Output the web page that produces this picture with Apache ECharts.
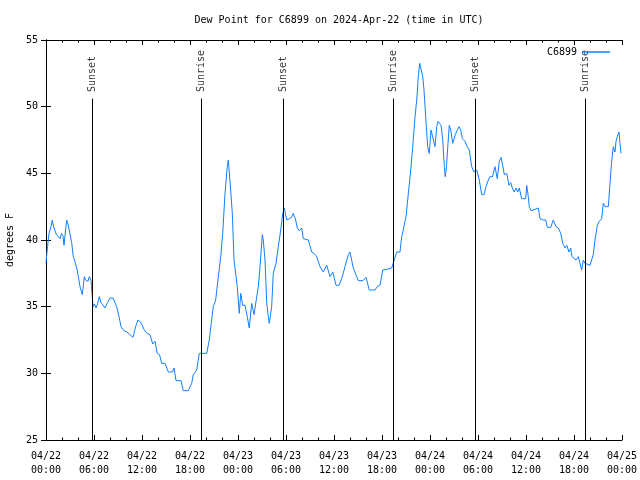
<!DOCTYPE html>
<html><head><meta charset="utf-8">
<script src="https://cdn.jsdelivr.net/npm/echarts@6/dist/echarts.min.js"></script>
<style>html,body{margin:0;padding:0;background:#fff}#c{width:640px;height:480px}</style>
</head><body><div id="c"></div>
<script>
// hours since 2024-04-22 00:00 UTC
var hours = [0,0.19,0.375,0.625,0.79,0.94,1.125,1.31,1.5,1.75,1.94,2.125,2.25,2.58,2.75,2.94,3.21,3.41,3.56,3.84,4.06,4.25,4.54,4.79,4.94,5.09,5.25,5.41,5.625,5.79,5.875,6.06,6.25,6.44,6.66,6.875,7.125,7.375,7.69,8.0,8.375,8.625,8.84,9.125,9.375,9.75,10.125,10.5,10.875,11.25,11.5,11.875,12.25,12.625,13.0,13.34,13.625,13.91,14.19,14.46,14.875,15.29,15.81,16.0,16.25,16.875,17.16,17.79,18.21,18.41,18.84,19.16,19.625,20.09,20.41,20.71,20.91,21.21,21.54,21.84,22.09,22.375,22.66,22.79,23.0,23.29,23.5,23.75,23.91,24.16,24.34,24.59,24.875,25.16,25.41,25.71,26.0,26.25,26.54,26.75,27.04,27.16,27.375,27.59,27.79,27.91,28.21,28.41,28.75,29.04,29.34,29.59,29.79,30.09,30.41,30.69,30.91,31.21,31.41,31.66,31.96,32.16,32.5,32.79,33.21,33.5,33.84,34.25,34.66,35.09,35.5,35.84,36.25,36.625,36.96,37.375,37.79,38.0,38.21,38.41,39.04,39.625,40.0,40.25,40.41,41.125,41.41,41.75,42.09,42.625,43.21,43.41,43.84,44.25,44.46,44.66,44.875,45.0,45.21,45.59,45.84,46.125,46.34,46.54,46.71,46.875,47.09,47.25,47.46,47.71,47.91,48.125,48.375,48.625,48.84,49.0,49.375,49.59,49.79,49.91,50.06,50.25,50.41,50.59,50.84,51.0,51.16,51.41,51.625,51.84,52.04,52.25,52.375,52.66,52.91,53.09,53.21,53.5,53.84,54.04,54.16,54.46,54.75,55.0,55.29,55.5,55.81,56.125,56.41,56.66,56.875,57.09,57.29,57.59,57.875,58.09,58.29,58.54,58.75,58.96,59.16,59.46,59.96,60.09,60.29,60.41,60.625,61.125,61.54,61.75,62.16,62.46,62.66,63.09,63.41,63.75,64.04,64.34,64.59,64.875,65.09,65.375,65.59,65.75,66.0,66.25,66.54,66.75,66.96,67.16,67.375,67.59,68.0,68.21,68.41,68.625,68.91,69.16,69.46,69.66,69.875,70.09,70.29,70.5,70.71,70.91,71.125,71.25,71.41,71.625,71.75,71.875];
var dewPoint = [38.3,39.5,40.5,41.0,41.5,41.0,41.0,40.4,40.3,40.1,40.5,40.3,39.6,41.5,41.2,40.6,39.8,38.75,38.5,37.9,37.2,36.5,35.9,37.25,37.0,36.9,36.9,37.25,37.0,36.9,35.0,35.2,34.9,35.2,35.75,35.3,35.3,34.9,35.3,35.65,35.65,35.6,35.0,34.25,33.5,33.2,33.1,32.9,32.7,33.6,34.0,33.8,33.3,33.0,32.9,32.2,32.4,31.5,31.4,30.75,30.75,30.1,30.1,30.4,29.45,29.45,28.7,28.7,29.25,29.9,30.25,31.5,31.5,31.5,32.5,34.0,35.0,35.5,37.25,38.75,40.5,43.5,45.5,46.0,44.4,42.0,38.5,38.6,36.5,34.5,36.0,35.1,35.1,34.25,33.4,35.25,34.4,35.4,36.5,38.0,40.4,40.0,38.5,35.25,34.25,33.75,35.0,37.5,38.25,39.5,40.75,42.0,42.4,41.5,41.6,41.7,42.0,41.5,40.9,40.7,40.9,40.1,40.05,40.0,39.1,39.0,38.75,38.0,37.6,38.1,37.25,37.6,36.6,36.6,37.1,38.0,38.9,39.1,39.0,37.9,36.95,36.95,37.2,37.1,36.25,36.25,36.5,36.6,37.75,37.8,37.9,38.05,39.1,39.1,40.25,40.75,41.4,41.75,43.0,45.25,47.0,49.25,50.5,52.25,53.25,53.2,52.25,51.25,49.25,47.0,46.5,48.25,48.2,47.0,48.5,48.9,48.6,47.5,45.5,44.75,45.5,47.25,48.6,48.25,47.25,47.1,47.9,48.25,48.5,48.25,47.6,47.6,47.4,47.0,46.75,46.0,45.5,45.1,45.25,45.1,44.5,43.4,43.4,44.0,44.5,44.75,44.75,45.5,44.6,45.9,46.2,45.6,44.9,45.0,44.1,44.3,43.9,43.6,43.9,43.6,43.9,43.1,43.1,44.1,43.25,42.5,42.2,42.3,42.4,41.6,41.5,41.5,40.95,40.95,41.5,41.0,40.9,40.5,39.75,39.4,39.6,39.1,39.4,38.75,38.9,38.5,38.75,38.25,37.75,38.5,38.25,38.3,38.1,38.25,38.9,40.0,41.1,41.4,41.6,42.75,42.5,42.4,42.5,44.25,45.9,47.0,46.6,47.4,47.75,48.1,47.25,46.5];
var sunHours = [5.79,19.41,29.66,43.41,53.69,67.41];
var sunNames = ['Sunset','Sunrise','Sunset','Sunrise','Sunset','Sunrise'];
var xTickLabels = ['04/22\n00:00','04/22\n06:00','04/22\n12:00','04/22\n18:00','04/23\n00:00','04/23\n06:00','04/23\n12:00','04/23\n18:00','04/24\n00:00','04/24\n06:00','04/24\n12:00','04/24\n18:00','04/25\n00:00'];
var yTicks = [25,30,35,40,45,50,55];

var FONT = 'DejaVu Sans Mono';
var series = hours.map(function(h,i){return [h, dewPoint[i]];});
var sunLineTop = 50.6, sunLabelY = 51.1;
var chart = echarts.init(document.getElementById('c'), null, {renderer:'canvas'});
var axisCommon = {
  axisLine:{show:true,lineStyle:{color:'#000',width:1}},
  splitLine:{show:false}
};
chart.setOption({
  animation:false,
  backgroundColor:'#fff',
  title:{text:'Dew Point for C6899 on 2024-Apr-22 (time in UTC)',left:334,textAlign:'center',top:10,
    textStyle:{fontFamily:FONT,fontSize:10,fontWeight:'normal',color:'#000'}},
  legend:{data:[{name:'C6899',icon:'rect'}],right:25,top:42,align:'right',itemWidth:28,itemHeight:1.5,
    itemGap:4,itemStyle:{borderWidth:0,color:'#1080ff'},
    textStyle:{fontFamily:FONT,fontSize:10,color:'#000'}},
  grid:{left:46,right:18,top:40,bottom:40,containLabel:false,outerBoundsMode:'none'},
  xAxis:[
    Object.assign({type:'value',min:0,max:72,interval:6,position:'bottom',
      axisTick:{show:true,inside:true,length:5,lineStyle:{color:'#000'}},
      minorTick:{show:true,splitNumber:3,length:2.5,lineStyle:{color:'#000'}},
      axisLabel:{fontFamily:FONT,fontSize:10,color:'#000',margin:9,lineHeight:14,
        formatter:function(v){return xTickLabels[Math.round(v/6)];}}},axisCommon),
    Object.assign({type:'value',min:0,max:72,interval:6,position:'top',
      axisTick:{show:true,inside:true,length:5,lineStyle:{color:'#000'}},
      minorTick:{show:true,splitNumber:3,length:2.5,lineStyle:{color:'#000'}},
      axisLabel:{show:false}},axisCommon)
  ],
  yAxis:[
    Object.assign({type:'value',min:yTicks[0],max:yTicks[yTicks.length-1],interval:5,position:'left',
      name:'degrees F',nameLocation:'middle',nameRotate:90,nameGap:31,
      nameTextStyle:{fontFamily:FONT,fontSize:10,color:'#000'},
      axisTick:{show:true,inside:true,length:5,lineStyle:{color:'#000'}},
      axisLabel:{fontFamily:FONT,fontSize:10,color:'#000',margin:8}},axisCommon),
    Object.assign({type:'value',min:yTicks[0],max:yTicks[yTicks.length-1],interval:5,position:'right',
      axisTick:{show:true,inside:true,length:5,lineStyle:{color:'#000'}},
      axisLabel:{show:false}},axisCommon)
  ],
  series:[
    {name:'C6899',type:'line',data:series,showSymbol:false,symbol:'none',
      lineStyle:{color:'#1080ff',width:1},itemStyle:{color:'#1080ff'},
      markLine:{silent:true,symbol:['none','none'],animation:false,
        lineStyle:{color:'#000',width:1,type:'solid'},label:{show:false},
        data:sunHours.map(function(h){return [{coord:[h,25]},{coord:[h,sunLineTop]}];})}},
    {name:'sun',type:'scatter',symbolSize:0,silent:true,
      data:sunHours.map(function(h,i){return {value:[h,sunLabelY],name:sunNames[i]};}),
      label:{show:true,position:'inside',rotate:90,align:'left',verticalAlign:'middle',
        fontFamily:FONT,fontSize:10,color:'#000',formatter:function(p){return p.name;}}}
  ]
});
</script></body></html>
